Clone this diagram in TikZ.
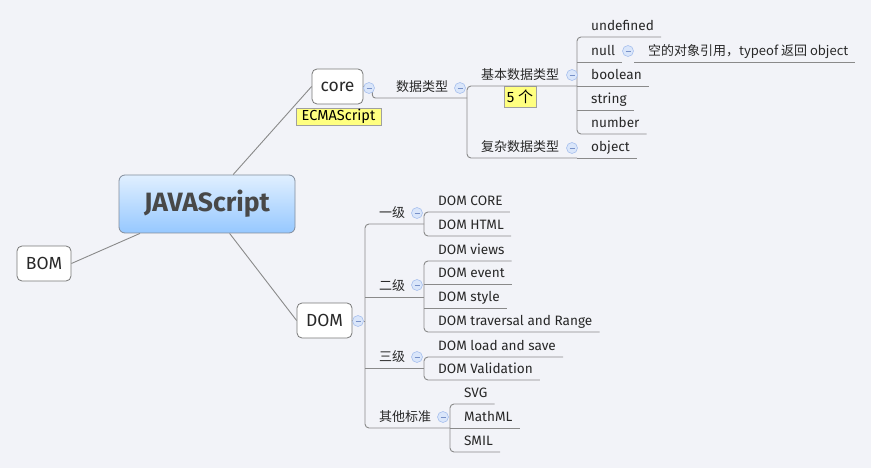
\documentclass[tikz,border=0pt]{standalone}
\usepackage{fontspec}
\setmainfont{Fira Sans}
\newfontfamily\cjk{Noto Sans CJK SC}
\definecolor{bg}{RGB}{242,243,248}
\definecolor{linec}{RGB}{138,138,138}
\definecolor{txt}{RGB}{40,40,40}
\definecolor{roottxt}{RGB}{72,72,72}
\definecolor{rootbd}{RGB}{130,140,155}
\definecolor{roottop}{RGB}{224,239,255}
\definecolor{rootbot}{RGB}{150,200,255}
\definecolor{topicbd}{RGB}{120,120,120}
\definecolor{yel}{RGB}{255,255,128}
\definecolor{yelbd}{RGB}{160,160,160}
\definecolor{cfill}{RGB}{218,230,250}
\definecolor{cbd}{RGB}{168,192,238}
\definecolor{cminus}{RGB}{120,145,200}
\begin{document}
\begin{tikzpicture}[x=1pt,y=-1pt,
  conn/.style={draw=linec,line width=0.9pt},
  rc/.style={rounded corners=4pt},
  root/.style={rectangle,rounded corners=6pt,draw=rootbd,line width=0.8pt,
    top color=roottop,bottom color=rootbot,minimum width=176pt,minimum height=58pt,
    inner sep=0pt,font=\bfseries\fontsize{26.5}{30}\selectfont,text=roottxt},
  topic/.style={rectangle,rounded corners=5pt,draw=topicbd,line width=0.8pt,fill=white,
    inner sep=0pt,minimum height=35pt,font=\fontsize{17.5}{20}\selectfont,text=txt},
  leaf/.style={anchor=south west,xshift=14pt,inner xsep=0pt,inner ysep=3pt,
    text height=10pt,text depth=3pt,font=\fontsize{13.6}{15}\selectfont,text=txt},
  lab/.style={fill=yel,draw=yelbd,line width=0.6pt,inner sep=0pt,
    font=\fontsize{14.5}{16}\selectfont,text=black},
  tog/.style={circle,minimum size=11pt,inner sep=0pt,fill=cfill,draw=cbd,line width=0.6pt,
    path picture={\draw[cminus,line width=0.8pt]
      ([xshift=-2.5pt]path picture bounding box.center) --
      ([xshift=2.5pt]path picture bounding box.center);}}
]
\fill[bg] (0,0) rectangle (871,468);

% bracket x positions
\coordinate (kA) at (577,0);
\coordinate (kB) at (467,0);
\coordinate (kC) at (365,0);
\coordinate (kD) at (424,0);
\coordinate (kG) at (450,0);
\coordinate (kN) at (634,0);

% main topics
\node[root] (root) at (207,204) {JAVAScript};
\node[topic,minimum width=51pt] (core) at (337.5,86.5) {core};
\node[topic,minimum width=55pt] (dom) at (324.5,320.5) {DOM};
\node[topic,minimum width=54pt] (bom) at (44,263.5) {BOM};

\draw[conn] (root) -- (core.west);
\draw[conn] (root) -- (dom.west);
\draw[conn] (root) -- (bom.east);

% labels
\node[lab,minimum width=85pt,minimum height=17pt] (ecma) at (338.5,116.5) {ECMAScript};

% core subtree
\node[leaf,font=\fontsize{13}{15}\selectfont] (sjlx) at (382,98) {\cjk 数据类型};
\node[leaf,font=\fontsize{13}{15}\selectfont] (jiben) at (467,86) {\cjk 基本数据类型};
\node[leaf,font=\fontsize{13}{15}\selectfont] (fuza) at (467,158) {\cjk 复杂数据类型};
\node[leaf] (undef) at (577,37) {undefined};
\node[leaf] (null) at (577,62) {null};
\node[leaf] (bool) at (577,86) {boolean};
\node[leaf] (str) at (577,110) {string};
\node[leaf] (num) at (577,134) {number};
\node[leaf] (obj) at (577,158) {object};
\node[leaf,font=\fontsize{13}{15}\selectfont] (note) at (634,62) {\cjk 空的对象引用，typeof 返回 object};

\node[lab,minimum width=32pt,minimum height=21pt,font=\fontsize{15}{17}\selectfont] (five) at (520,96.5) {5 {\cjk 个}};

\draw[conn,rounded corners=3pt] (core.east) -- ++(9,0) |- (kB |- sjlx.south);
\draw[conn,rc] (kA |- jiben.south) -- (kB |- jiben.south) -- (kB |- fuza.south) -- (kA |- fuza.south);
\draw[conn,rc] ([xshift=7pt]undef.south east) -- (kA |- undef.south) -- (kA |- num.south) -- ([xshift=7pt]num.south east);
\foreach \n in {null,bool,str,obj}
  \draw[conn] (kA |- \n.south) -- ([xshift=7pt]\n.south east);
\draw[conn] (kN |- note.south) -- ([xshift=7pt]note.south east);

% DOM subtree
\node[leaf,font=\fontsize{13}{15}\selectfont] (yiji) at (365,224) {\cjk 一级};
\node[leaf,font=\fontsize{13}{15}\selectfont] (erji) at (365,297) {\cjk 二级};
\node[leaf,font=\fontsize{13}{15}\selectfont] (sanji) at (365,368) {\cjk 三级};
\node[leaf,font=\fontsize{13}{15}\selectfont] (qita) at (365,428) {\cjk 其他标准};
\node[leaf] (dcore) at (424,212) {DOM CORE};
\node[leaf] (dhtml) at (424,236) {DOM HTML};
\node[leaf] (views) at (424,261) {DOM views};
\node[leaf] (event) at (424,284) {DOM event};
\node[leaf] (style) at (424,308) {DOM style};
\node[leaf] (trav) at (424,332) {DOM traversal and Range};
\node[leaf] (load) at (424,357) {DOM load and save};
\node[leaf] (valid) at (424,380) {DOM Validation};
\node[leaf] (svg) at (450,404) {SVG};
\node[leaf] (mathml) at (450,428) {MathML};
\node[leaf] (smil) at (450,452) {SMIL};

\node[tog] (cdom) at (358,321) {};
\draw[conn] (dom.east) -- (cdom.west);
\draw[conn] (cdom.east) -- (kC |- cdom.east);

\draw[conn,rc] (kD |- yiji.south) -- (kC |- yiji.south) -- (kC |- qita.south) -- (kG |- qita.south);
\draw[conn] (kC |- erji.south) -- (kD |- erji.south);
\draw[conn] (kC |- sanji.south) -- (kD |- sanji.south);

\draw[conn,rc] ([xshift=7pt]dcore.south east) -- (kD |- dcore.south) -- (kD |- dhtml.south) -- ([xshift=7pt]dhtml.south east);
\draw[conn,rc] ([xshift=7pt]views.south east) -- (kD |- views.south) -- (kD |- trav.south) -- ([xshift=7pt]trav.south east);
\foreach \n in {event,style}
  \draw[conn] (kD |- \n.south) -- ([xshift=7pt]\n.south east);
\draw[conn,rc] ([xshift=7pt]load.south east) -- (kD |- load.south) -- (kD |- valid.south) -- ([xshift=7pt]valid.south east);
\draw[conn,rc] ([xshift=7pt]svg.south east) -- (kG |- svg.south) -- (kG |- smil.south) -- ([xshift=7pt]smil.south east);
\draw[conn] (kG |- mathml.south) -- ([xshift=7pt]mathml.south east);

% toggles
\node[tog] (ccore) at (369,88) {};
\node[tog] (csjlx) at (460,88) {};
\node[tog] (cjiben) at (572,75) {};
\node[tog] (cnull) at (628,51) {};
\node[tog] (cfuza) at (572,148) {};
\node[tog] (cyiji) at (417,213) {};
\node[tog] (cerji) at (417,285) {};
\node[tog] (csanji) at (417,357) {};
\node[tog] (cqita) at (443,417) {};
\end{tikzpicture}
\end{document}
